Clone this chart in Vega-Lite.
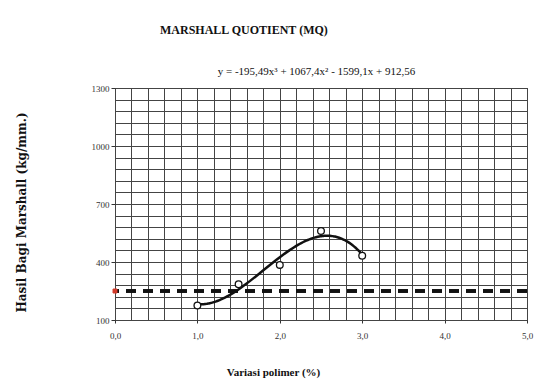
{
  "$schema": "https://vega.github.io/schema/vega-lite/v6.json",
  "autosize": {"type": "none"},
  "width": 412,
  "height": 232,
  "padding": {"left": 115, "top": 88, "right": 32, "bottom": 72},
  "background": "white",
  "title": {
    "text": "MARSHALL QUOTIENT (MQ)",
    "anchor": "start",
    "frame": "group",
    "dx": 45,
    "offset": 28,
    "font": "Liberation Serif",
    "fontSize": 12,
    "fontWeight": "bold",
    "color": "#111"
  },
  "config": {
    "view": {"stroke": "#111", "strokeWidth": 1},
    "axis": {
      "labelFont": "Liberation Serif",
      "labelFontSize": 9,
      "labelColor": "#333",
      "titleFont": "Liberation Serif",
      "titleColor": "#111",
      "gridColor": "#444",
      "gridOpacity": 1,
      "gridWidth": 1,
      "domain": false,
      "tickColor": "#333"
    }
  },
  "data": {
    "values": [
      {"x": 1.0, "mq": 175},
      {"x": 1.5, "mq": 285},
      {"x": 2.0, "mq": 385},
      {"x": 2.5, "mq": 560},
      {"x": 3.0, "mq": 432}
    ]
  },
  "resolve": {"axis": {"x": "independent", "y": "independent"}},
  "layer": [
    {
      "mark": {"type": "rule", "stroke": "#111", "strokeWidth": 3, "strokeDash": [10, 7]},
      "encoding": {
        "y": {"datum": 250, "type": "quantitative", "axis": null}
      }
    },
    {
      "transform": [
        {"regression": "mq", "on": "x", "method": "poly", "order": 3, "extent": [1, 3]}
      ],
      "mark": {"type": "line", "stroke": "#111", "strokeWidth": 2.5},
      "encoding": {
        "x": {"field": "x", "type": "quantitative", "axis": null},
        "y": {"field": "mq", "type": "quantitative", "axis": null}
      }
    },
    {
      "mark": {"type": "point", "shape": "circle", "size": 45, "filled": false, "stroke": "#111", "fill": "white", "fillOpacity": 1, "strokeWidth": 1.3, "opacity": 1},
      "encoding": {
        "x": {
          "field": "x",
          "type": "quantitative",
          "scale": {"domain": [0, 5], "nice": false, "zero": false},
          "axis": {
            "orient": "bottom",
            "values": [0, 0.2, 0.4, 0.6, 0.8, 1, 1.2, 1.4, 1.6, 1.8, 2, 2.2, 2.4, 2.6, 2.8, 3, 3.2, 3.4, 3.6, 3.8, 4, 4.2, 4.4, 4.6, 4.8, 5],
            "grid": true,
            "labelExpr": "datum.value % 1 === 0 ? replace(format(datum.value, '.1f'), '.', ',') : ''",
            "labelFlush": false,
            "labelOverlap": false,
            "tickSize": 3,
            "tickOpacity": {"condition": {"test": "datum.value % 1 === 0", "value": 1}, "value": 0},
            "labelPadding": 8,
            "title": "Variasi polimer (%)",
            "titleFontSize": 11,
            "titleFontWeight": "bold",
            "titleX": 158,
            "titlePadding": 26
          }
        },
        "y": {
          "field": "mq",
          "type": "quantitative",
          "scale": {"domain": [100, 1300], "nice": false, "zero": false},
          "axis": {
            "orient": "left",
            "values": [100, 160, 220, 280, 340, 400, 460, 520, 580, 640, 700, 760, 820, 880, 940, 1000, 1060, 1120, 1180, 1240, 1300],
            "grid": true,
            "labelExpr": "datum.value % 300 === 100 ? datum.value : ''",
            "labelOverlap": false,
            "labelFlush": false,
            "tickSize": 4,
            "tickOpacity": {"condition": {"test": "datum.value % 300 === 100", "value": 1}, "value": 0},
            "labelPadding": 2,
            "title": "Hasil Bagi Marshall  (kg/mm.)",
            "titleFont": "DejaVu Serif",
            "titleFontSize": 12,
            "titleFontWeight": "bold",
            "titleY": 124,
            "titlePadding": 63
          }
        }
      }
    },
    {
      "mark": {"type": "point", "shape": "square", "size": 18, "filled": true, "color": "#d23a2a", "opacity": 1},
      "encoding": {
        "x": {
          "datum": 0,
          "type": "quantitative",
          "axis": {
            "orient": "top",
            "grid": false,
            "labels": false,
            "ticks": false,
            "domain": false,
            "title": "y = -195,49x³ + 1067,4x² - 1599,1x + 912,56",
            "titleFontSize": 11,
            "titleFontWeight": "normal",
            "titleX": 201,
            "titlePadding": 12
          }
        },
        "y": {"datum": 250, "type": "quantitative", "axis": null}
      }
    }
  ]
}
